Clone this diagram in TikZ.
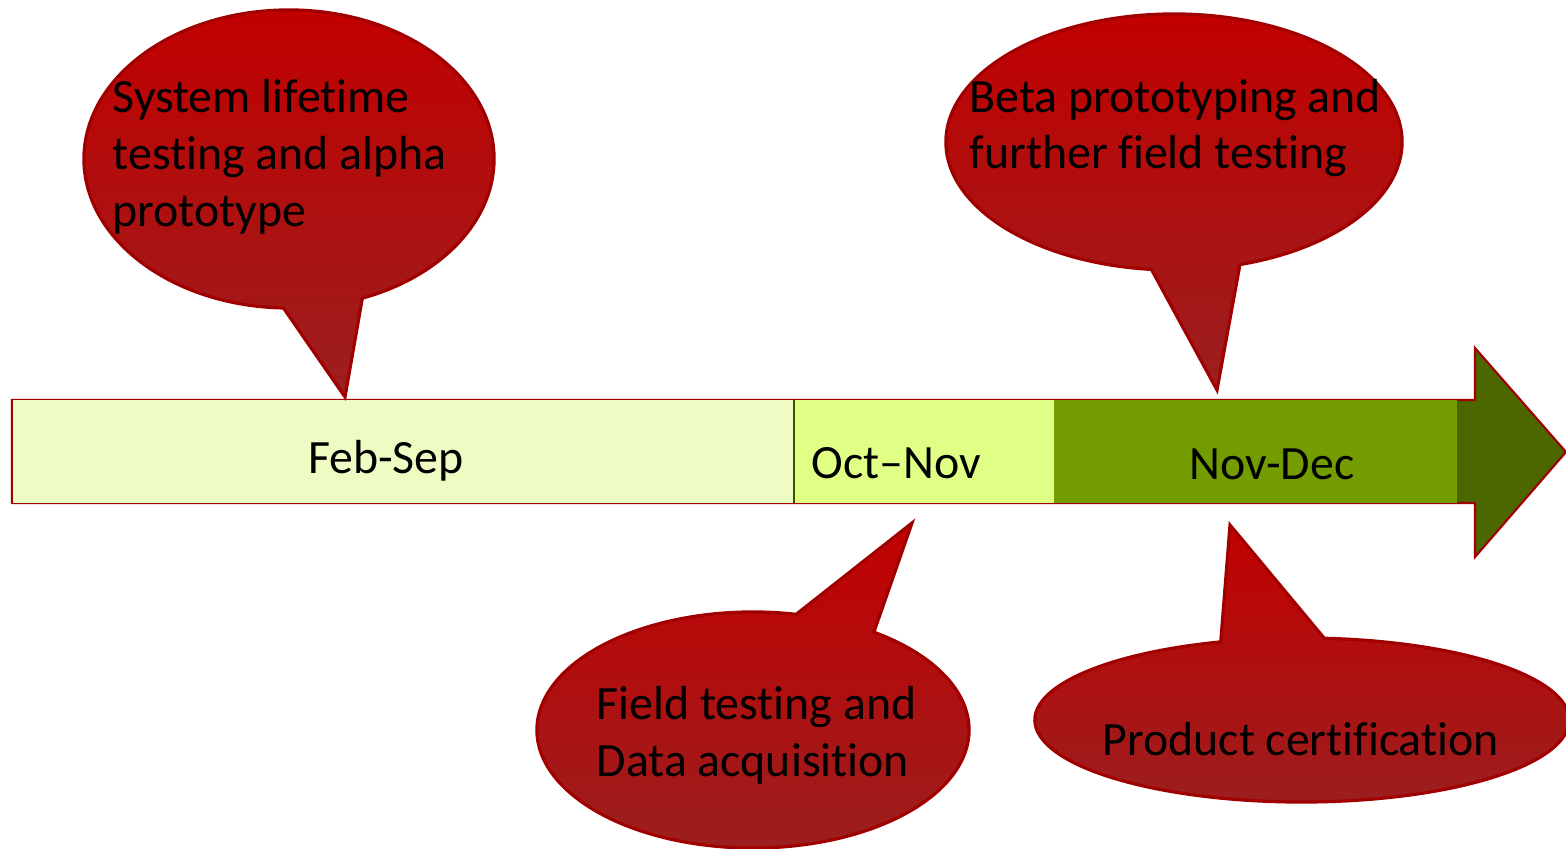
\documentclass[tikz,border=0pt]{standalone}
\usepackage{fontspec}
\setmainfont{Carlito}[Ligatures={NoCommon,NoRare,NoContextual}]
\usepackage{xcolor}
\usetikzlibrary{shapes.callouts, positioning}

\definecolor{febsep}{RGB}{238,252,196}
\definecolor{octnov}{RGB}{223,255,133}
\definecolor{novdec}{RGB}{115,156,0}
\definecolor{headgreen}{RGB}{76,102,0}
\definecolor{calltop}{RGB}{194,0,0}
\definecolor{callbot}{RGB}{155,31,31}
\definecolor{rimred}{RGB}{160,0,0}

\begin{document}
\begin{tikzpicture}[
    x=0.01cm, y=-0.01cm,
    every node/.style={font=\fontsize{13.6}{16.2}\selectfont},
    bubble/.style={ellipse callout, draw=rimred, line width=0.9pt, inner sep=0pt, callout pointer arc=22.5, top color=calltop, bottom color=callbot},
    seg/.style={rectangle, anchor=north west, inner sep=0pt, outer sep=0pt, minimum height=1.02cm},
    note/.style={anchor=west, align=left, inner sep=0pt},
    barlabel/.style={inner sep=0pt},
    rim/.style={draw=rimred, line width=0.6pt, line join=miter}
]
\useasboundingbox (0,0) rectangle (1566,849);

% timeline arrow
\draw[rim, fill=headgreen] (12,400) -- (1475,400) -- (1475,348) -- (1566,452) -- (1475,557) -- (1475,503) -- (12,503) -- cycle;
\node[seg, fill=febsep, minimum width=7.81cm] (feb) at (12.5,400.5) {};
\node[seg, fill=octnov, minimum width=2.60cm, right=0pt of feb] (oct) {};
\node[seg, fill=novdec, minimum width=4.03cm, right=0pt of oct] (nov) {};
\draw[headgreen!80!black, line width=0.5pt] (feb.north east) -- (feb.south east);

\node[barlabel] (feb label) at (386,461) {Feb-Sep};
\node[barlabel] (oct label) at (896,463) {Oct--Nov};
\node[barlabel] (nov label) at (1272,464) {Nov-Dec};

% callouts
\coordinate (lifetime tip) at (345,397);
\coordinate (beta tip) at (1217,390);
\coordinate (field tip) at (912,523);
\coordinate (cert tip) at (1230,525);

\node[bubble, minimum width=4.10cm, minimum height=2.98cm, callout absolute pointer=(lifetime tip)] (lifetime) at (289,159) {};
\node[bubble, minimum width=4.56cm, minimum height=2.56cm, callout absolute pointer=(beta tip)] (beta) at (1174,142) {};
\node[bubble, minimum width=4.32cm, minimum height=2.36cm, callout absolute pointer=(field tip)] (field) at (753,730) {};
\node[bubble, minimum width=5.34cm, minimum height=1.64cm, callout absolute pointer=(cert tip)] (cert) at (1302,720) {};

\node[note] (lifetime text) at (112,157) {System lifetime\\testing and alpha\\prototype};
\node[note] (beta text) at (969,128) {Beta prototyping and\\further field testing};
\node[note] (field text) at (596,735) {Field testing and\\Data acquisition};
\node[note] (cert text) at (1102,739) {Product certification};

\end{tikzpicture}
\end{document}
